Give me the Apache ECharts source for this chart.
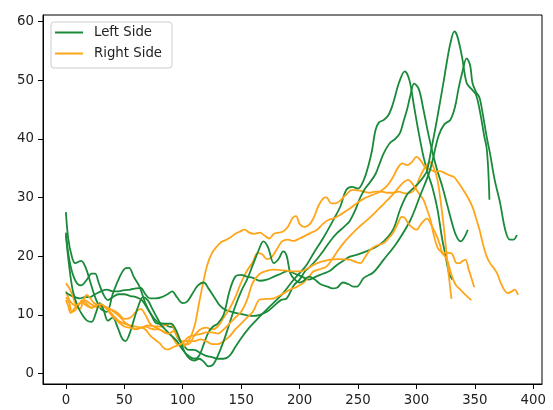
<!DOCTYPE html>
<html>
<head>
<meta charset="utf-8">
<script src="https://cdn.jsdelivr.net/npm/echarts@6/dist/echarts.min.js"></script>
<style>
  html, body { margin: 0; padding: 0; background: #fff; }
  #chart { width: 553px; height: 410px; }
</style>
</head>
<body>
<div id="chart"></div>
<script>
// tick labels
const xTicks = [0, 50, 100, 150, 200, 250, 300, 350, 400];
const yTicks = [0, 10, 20, 30, 40, 50, 60];

// left side trials, [x, y]
const left1 = [[0,27.5],[2,23],[5,20],[8,18.8],[13,19.2],[17,18],[21,15.5],[25,13],[30,11],[35,10.5],[40,13.5],[45,16],[50,17.8],[54,18],[58,16.5],[63,14.8],[68,12],[73,10],[78,8.5],[83,8.5],[88,8],[92,7.8],[96,6],[100,5],[105,4],[110,4],[115,3.5],[120,3],[125,2.8],[130,2.5],[135,2.5],[140,3],[145,4.5],[150,6],[157,7.8],[165,9.5],[175,11.5],[186,13.7],[193,15.5],[200,17.1],[206,18.5],[212,20.5],[220,23],[229,26.2],[235,28.5],[240,31.3],[245,31.8],[250,31.5],[255,33],[259,35.5],[262,38],[265,41.5],[268,42.8],[272,43.2],[276,44],[280,46],[285,49.5],[290,51.5],[294,50],[298,45.5],[302,41],[306,37],[310,34],[314,31.5],[318,28],[322,23],[325,20],[328,17],[331,16]];
const left2 = [[0,13.8],[4,13.3],[8,13],[12,12.8],[16,13],[20,13],[25,13.5],[30,14],[35,14.3],[40,14],[45,14],[50,14.2],[55,14.3],[60,14.5],[64,14.6],[68,13.5],[72,12.8],[77,12.8],[82,13],[87,13.5],[91,14],[95,13],[100,12],[104,12.3],[108,13.5],[113,15],[118,15.5],[122,14.5],[127,13],[132,11.5],[137,10.8],[142,10.5],[148,10.2],[155,9.9],[160,9.8],[166,10],[172,10.5],[178,11.5],[184,12.5],[189,12.8],[195,15],[200,16],[205,17.5],[209,18.2],[215,19.5],[220,20.8],[226,22.5],[232,23.9],[238,25],[243,26],[248,28],[252,30],[256,31.5],[260,32.5],[265,34],[268,35.5],[272,37.5],[277,39.2],[282,40],[286,41],[289,43],[292,45],[295,47.5],[298,49.4],[302,48.5],[306,45],[310,41],[314,37.5],[318,34.5],[322,32],[326,29],[330,26],[334,23.5],[338,22.5],[341,23.2],[344,24.5]];
const left3 = [[0,24],[2,20.5],[5,17.5],[9,15.5],[13,15],[18,16],[22,17],[25,17],[28,15.5],[32,13.5],[36,12.5],[40,13],[45,13.5],[50,13.5],[55,13.2],[60,13],[65,12.5],[70,11],[75,9.5],[80,8.5],[85,7.5],[90,6.5],[95,5.5],[100,4],[105,3],[110,2.5],[114,3],[118,5],[122,7],[126,8],[130,8.5],[135,10],[140,14],[145,16.5],[150,16.8],[155,16.5],[160,16.3],[166,15.8],[172,16],[178,16.5],[184,17],[190,17.5],[196,17],[202,16.5],[208,16],[214,16.5],[220,17],[226,17.5],[232,18.5],[238,19.3],[243,19.9],[250,20.3],[257,20.8],[265,21.5],[272,22.5],[280,24.5],[286,27.9],[292,30.5],[297,31.5],[302,32.5],[306,33.5],[309,34.5],[313,38.5],[317,42.6],[320,46],[323,49.4],[326,53],[329,56.2],[332.5,58.3],[335,57.5],[339,54],[343,49.5],[347,48.5],[351,47.5],[355,44],[358,40.5],[360,38.6],[361.5,34.7],[362.5,29.6]];
const left4 = [[0,23.5],[3,18],[6,14],[10,11.5],[14,10],[18,9],[22,8.8],[26,10.5],[29,12],[32,11],[36,9],[40,9.5],[44,8],[48,6],[51,5.5],[54,6.5],[58,9],[62,11.5],[66,13],[70,12.5],[74,11],[78,9.5],[82,8.5],[86,8.5],[90,8.5],[94,7.5],[98,5.5],[102,3.5],[106,2.5],[110,2.2],[114,2.5],[118,2],[122,1.2],[126,1.5],[130,3],[135,5.5],[140,8.5],[145,11.5],[150,14],[155,16],[160,18.5],[165,21],[169,22.5],[173,21.5],[178,18.8],[182,19.5],[186,20.8],[189,20],[192,17.1],[196,16],[200,15.5],[203,15.7],[208,16.5],[213,16],[218,15.2],[224,14.8],[228,14.5],[232,14.6],[237,15.5],[242,15.2],[246,14.8],[249,14.8],[255,16.3],[263,17.2],[272,19.4],[283,22.2],[295,26.2],[303,30.2],[311.7,34.7],[319,40.5],[324,42.5],[329,43.2],[333,45.4],[336,48.5],[339,51.1],[343,53.7],[346,52.5],[348,49.5],[351,48],[354,47],[357,44],[360,40.5],[363,37.5],[367,33],[371.7,29],[376,24.5],[380,22.8],[383,22.8],[386,23.6]];

// right side trials, [x, y]
const right1 = [[0,14],[3,12.5],[6,11.8],[10,11.5],[14,12.5],[18,11.8],[22,11.2],[26,11.5],[30,11.8],[35,11],[40,10],[45,9],[50,8.5],[55,8.2],[60,8],[65,7.8],[70,8.2],[75,8],[80,7.5],[85,7],[90,6.5],[95,5],[100,4.6],[105,5.5],[110,8],[114,12],[117.4,15.4],[121,18.5],[125,20.5],[129,21.6],[133,22.4],[137.4,22.8],[141,23.2],[145,23.8],[149,24.2],[153,24.5],[157,24],[161,23.8],[166,24],[170,23.5],[174,23],[178,23.8],[182,24],[186,24.2],[190,25],[194,26.5],[197,26.8],[200,25.5],[204,25],[208,25.3],[212,26.5],[216,28.5],[220,29.8],[223,30],[227,29],[231,29],[235,29.5],[240,30.5],[245,31.3],[250,31.2],[255,31],[260,30.8],[265,31],[270,31],[275,30.8],[280,30.8],[285,31],[290,30.7],[295,30.8],[299,31.5],[303,33.5],[307,35],[311.7,36],[315,35],[318,33],[321,29],[324,24],[327,18],[330,12.7]];
const right2 = [[0,13],[3,12],[5,10.5],[8,10.8],[12,12],[16,12.5],[20,12],[24,11.5],[28,11.3],[32,11.5],[36,11],[40,10.8],[45,10.2],[50,9.3],[55,9.5],[60,10.5],[64,11],[68,10],[72,8.5],[76,8],[80,8],[85,8.2],[89,8.5],[93,7.5],[97,6],[101,5],[105,5],[110,6.5],[115,7.5],[120,7.8],[125,7.5],[130,8],[135,9.5],[140,11],[145,13],[150,15.5],[155,17.5],[160,19],[164,20.5],[168,20.3],[172,19.5],[176,19.8],[180,21],[185,22.5],[190,22.8],[195,22.6],[200,23],[205,23.5],[210,24],[215,24.5],[220,25.5],[225,26.2],[230,26.5],[236,27.2],[243,28.1],[249,29],[255,29.8],[262,30.4],[269,31],[275,32],[280,33.5],[284,35],[288,35.8],[292,35.5],[296,36],[300,36.9],[304,36.2],[308,35],[312,34.8],[316,34.4],[320,34.5],[324,34.2],[328,33.8],[332,33.5],[336,32.5],[340,31.3],[344,30],[348,28.4],[351,26.5],[354,24.5],[357,22],[360,20],[363,18.8],[366,18],[369,17.1],[372,15.5],[375,14.3],[378,13.7],[381,13.9],[384,14.3],[387,13.4]];
const right3 = [[0,15.4],[3,14.5],[6,13.1],[9,11.5],[12,11],[15,12.5],[18,13.4],[21,12.8],[24,12],[28,11.6],[32,11.4],[36,11.2],[41,10.5],[46,9.7],[51,8.6],[56,8],[60,7.5],[64,7.8],[68,8],[72,7.7],[76,7.5],[80,7.5],[84,7],[88,6.8],[92,7.2],[96,6],[100,5.5],[105,5.5],[110,5.5],[115,5.8],[120,5.5],[125,5],[130,5],[135,5.5],[140,6.3],[145,7.5],[150,8.5],[155,9.5],[160,10.5],[166,12.6],[172,12.7],[178,12.8],[185,13.5],[192,14.3],[198,14.8],[203,15.4],[208,16.5],[212,17.4],[218,17.8],[223,18.2],[228,19.5],[233,21],[238,22.3],[243,23.4],[250,24.8],[257,26],[264,27.3],[270,28.5],[276,29.7],[282,31],[288,32.4],[293,33],[297,32.2],[301,31],[306,29.6],[309,28],[312,26.2],[315,23.5],[318,21.5],[322,20.5],[326,19.5],[329,17.5],[331.7,15.9],[334,15],[337.5,14.3],[342,13.4],[347,12.5]];
const right4 = [[0,12.5],[2,11.5],[4,10.3],[7,11],[10,11.8],[14,12],[18,11.5],[22,11.2],[26,11.6],[30,11.8],[34,11.2],[38,10.2],[42,9.3],[46,8.6],[50,8],[55,7.8],[60,7.5],[64,7.8],[68,7.5],[72,6.5],[76,5.8],[80,5.2],[83,4.5],[86,4.1],[89,4.2],[92,4.5],[96,4.8],[100,5.2],[105,6.2],[110,6.5],[115,6.7],[120,7],[125,7],[130,6.8],[135,7.5],[140,8.5],[145,9.5],[150,10.5],[155,12.5],[160,15.5],[166,17],[172,17.5],[178,17.7],[184,17.6],[190,17.5],[195,17.4],[200.6,17.4],[206,17.8],[212,18.5],[218,19],[226,19.4],[234,19.5],[243,19.4],[248,19],[252,18.8],[256,19.8],[260.6,21.1],[266,21.8],[271.7,22.2],[276,23],[280,24],[284,25.5],[287.4,26.7],[290,26.5],[293,25.6],[297,24.8],[300.3,24.5],[304,25.5],[309,26.4],[313,25.2],[317.5,23.4],[320,22],[323,20.5],[326,20.6],[330,20.5],[334.6,18.8],[337,18.8],[339,19.1],[341.9,19.4],[344.8,17.7],[347,16.3],[349.5,14.7]];

const leftColor = '#1a8a3a';
const rightColor = '#ffa51a';
const fontFamily = 'DejaVu Sans';

function trial(name, data, color) {
  return {
    name: name,
    type: 'line',
    data: data,
    symbol: 'none',
    showSymbol: false,
    smooth: 0.35,
    color: color,
    lineStyle: { width: 1.8, color: color },
    emphasis: { disabled: true }
  };
}

const chart = echarts.init(document.getElementById('chart'));
chart.setOption({
  animation: false,
  textStyle: { fontFamily: fontFamily },
  grid: {
    left: 43, right: 11, top: 15, bottom: 26,
    containLabel: false,
    show: true,
    borderColor: '#000',
    borderWidth: 1
  },
  legend: {
    data: ['Left Side', 'Right Side'],
    orient: 'vertical',
    left: 51,
    top: 22,
    icon: 'rect',
    itemWidth: 28,
    itemHeight: 2,
    itemGap: 8,
    padding: [4, 10, 8, 4],
    backgroundColor: 'rgba(255,255,255,0.8)',
    borderColor: '#cccccc',
    borderWidth: 1,
    borderRadius: 3,
    textStyle: { fontFamily: fontFamily, fontSize: 13.3, color: '#222', padding: [0, 0, 0, 6] }
  },
  xAxis: {
    type: 'value',
    min: -19.6,
    max: 407.5,
    splitLine: { show: false },
    axisLine: { show: true, onZero: false, lineStyle: { color: '#000' } },
    axisTick: { show: true, length: 5, lineStyle: { color: '#000' }, customValues: xTicks },
    axisLabel: { margin: 10, fontSize: 13.3, color: '#222', fontFamily: fontFamily, customValues: xTicks }
  },
  yAxis: {
    type: 'value',
    min: -1.8,
    max: 61.1,
    splitLine: { show: false },
    axisLine: { show: true, onZero: false, lineStyle: { color: '#000' } },
    axisTick: { show: true, length: 5, lineStyle: { color: '#000' }, customValues: yTicks },
    axisLabel: { margin: 9, fontSize: 13.3, color: '#222', fontFamily: fontFamily, customValues: yTicks }
  },
  series: [
    trial('Left Side', left1, leftColor),
    trial('Right Side', right1, rightColor),
    trial('Left Side', left2, leftColor),
    trial('Right Side', right2, rightColor),
    trial('Left Side', left3, leftColor),
    trial('Right Side', right3, rightColor),
    trial('Left Side', left4, leftColor),
    trial('Right Side', right4, rightColor)
  ]
});
</script>
</body>
</html>
